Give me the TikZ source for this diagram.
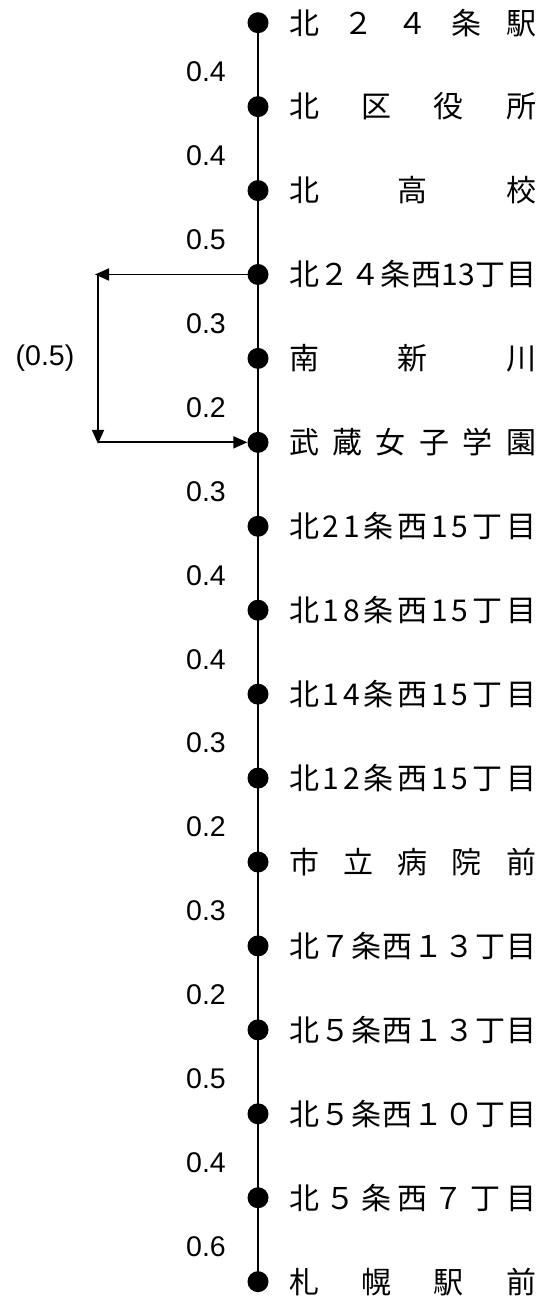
\documentclass[tikz,border=0pt]{standalone}
\usepackage{fontspec}
\setmainfont{Liberation Sans}
\newfontfamily\jp{Noto Sans CJK JP}
\usetikzlibrary{arrows.meta,calc}
\newcommand\hf{\hfill{}}
\begin{document}
\begin{tikzpicture}[x=1pt,y=-1pt,
  stop/.style={circle,fill=black,inner sep=0pt,minimum size=21pt},
  lbl/.style={anchor=west,inner sep=0pt,font=\jp\fontsize{30}{31}\selectfont},
  dist/.style={inner sep=0pt,font=\fontsize{28.5}{29}\selectfont},
  arr/.style={line width=1.8pt,-{Triangle[length=14pt,width=12pt]}}]
\useasboundingbox (0,0) rectangle (546,1301);
\foreach \i/\lab in {
  0/{北\hf ２\hf ４\hf 条\hf 駅},
  1/{北\hf 区\hf 役\hf 所},
  2/{北\hf 高\hf 校},
  3/{北\hf ２\hf ４\hf 条\hf 西\hf 13\hf 丁\hf 目},
  4/{南\hf 新\hf 川},
  5/{武\hf 蔵\hf 女\hf 子\hf 学\hf 園},
  6/{北\hf 2\hf 1\hf 条\hf 西\hf 1\hf 5\hf 丁\hf 目},
  7/{北\hf 1\hf 8\hf 条\hf 西\hf 1\hf 5\hf 丁\hf 目},
  8/{北\hf 1\hf 4\hf 条\hf 西\hf 1\hf 5\hf 丁\hf 目},
  9/{北\hf 1\hf 2\hf 条\hf 西\hf 1\hf 5\hf 丁\hf 目},
  10/{市\hf 立\hf 病\hf 院\hf 前},
  11/{北\hf ７\hf 条\hf 西\hf １\hf ３\hf 丁\hf 目},
  12/{北\hf ５\hf 条\hf 西\hf １\hf ３\hf 丁\hf 目},
  13/{北\hf ５\hf 条\hf 西\hf １\hf ０\hf 丁\hf 目},
  14/{北\hf ５\hf 条\hf 西\hf ７\hf 丁\hf 目},
  15/{札\hf 幌\hf 駅\hf 前}}{
  \node[stop] (s\i) at (258,{22.7+83.93*\i}) {};
  \node[lbl] (t\i) at (289,{22.7+83.93*\i}) {\makebox[247pt]{\lab}};
}
\draw[line width=2.2pt] (s0.center) -- (s15.center);
\foreach \i/\d in {0/0.4,1/0.4,2/0.5,3/0.3,4/0.2,5/0.3,6/0.4,7/0.4,8/0.3,9/0.2,10/0.3,11/0.2,12/0.5,13/0.4,14/0.6}{
  \node[dist] (d\i) at (206,{22.7+83.93*\i+49}) {\d};
}
\coordinate (ax) at (98,0);
\coordinate (axl) at (95,0);
\coordinate (a0) at (s3.center -| ax);
\coordinate (a1) at (s3.center -| axl);
\coordinate (a2) at ($(s5.center -| ax)+(0,1.5)$);
\coordinate (a3) at (s5.center -| ax);
\draw[arr] (s3.center) -- (a1);
\draw[arr] (a0) -- (a2);
\draw[arr] (a3) -- (s5.west);
\node[dist] (dd) at (45,358) {(0.5)};
\end{tikzpicture}
\end{document}
